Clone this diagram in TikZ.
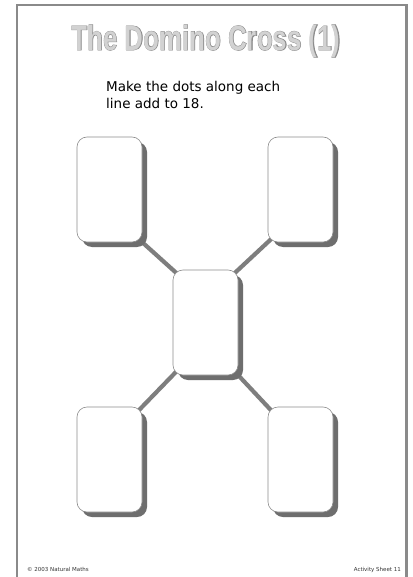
\documentclass[tikz,border=0pt]{standalone}
\usepackage{fontspec}
\setmainfont{DejaVu Sans}
\newfontfamily\titlefont[FakeStretch=0.74]{Liberation Sans Bold}
\newfontfamily\titleout[FakeStretch=0.74,FakeBold=2.2]{Liberation Sans Bold}
\newfontfamily\bodyfont{DejaVu Sans}
\usetikzlibrary{shadows,backgrounds}
\definecolor{framegray}{HTML}{8A8A8A}
\definecolor{titlefill}{HTML}{D2D2D2}
\definecolor{titleline}{HTML}{8C8C8C}
\definecolor{linkgray}{HTML}{7E7E7E}
\definecolor{shadowgray}{HTML}{6E6E6E}
\definecolor{cardedge}{HTML}{8C8C8C}
\tikzset{
  card/.style={draw=cardedge, line width=0.6pt, fill=white, rounded corners=10pt,
    minimum width=65pt, minimum height=105pt, inner sep=0pt,
    drop shadow={shadow xshift=5pt, shadow yshift=-5pt, fill=shadowgray, opacity=1}},
  link/.style={draw=linkgray, line width=4.2pt, shorten <=-6pt, shorten >=-6pt},
  foot/.style={font=\bodyfont\fontsize{5.5pt}{6pt}\selectfont, text=black!80, inner sep=0pt}
}
\begin{document}
\begin{tikzpicture}[x=1pt,y=-1pt]
\useasboundingbox (0,0) rectangle (412,577);
% frame
\draw[framegray, line width=2.6pt] (17,600) -- (17,5) -- (406.5,5) -- (406.5,600);
% title
\node[text=titleline, font=\titleout\fontsize{35pt}{36pt}\selectfont, inner sep=0pt] (tout) at (206,41) {The Domino Cross (1)};
\node[text=titlefill, font=\titlefont\fontsize{35pt}{36pt}\selectfont, inner sep=0pt] (title) at (206,41) {The Domino Cross (1)};
% instruction
\node[anchor=north west, align=left, font=\bodyfont\fontsize{13.5pt}{17pt}\selectfont, inner sep=0pt] (instr) at (106,81)
  {Make the dots along each\\line add to 18.};
% cards
\node[card] (tl) at (109.5,189.5) {};
\node[card] (tr) at (300.5,189.5) {};
\node[card] (c) at (205.5,322.5) {};
\node[card] (bl) at (109.5,459.5) {};
\node[card] (br) at (300.5,459.5) {};
\begin{scope}[on background layer]
\fill[white] (0,0) rectangle (412,577);
\draw[link] (tl.south east) -- (c.north west);
\draw[link] (tr.south west) -- (c.north east);
\draw[link] (bl.north east) -- (c.south west);
\draw[link] (br.north west) -- (c.south east);
\end{scope}
% footer
\node[foot, anchor=base west] (copy) at (27,571) {© 2003 Natural Maths};
\node[foot, anchor=base east] (sheet) at (401,571) {Activity Sheet 11};
\end{tikzpicture}
\end{document}
